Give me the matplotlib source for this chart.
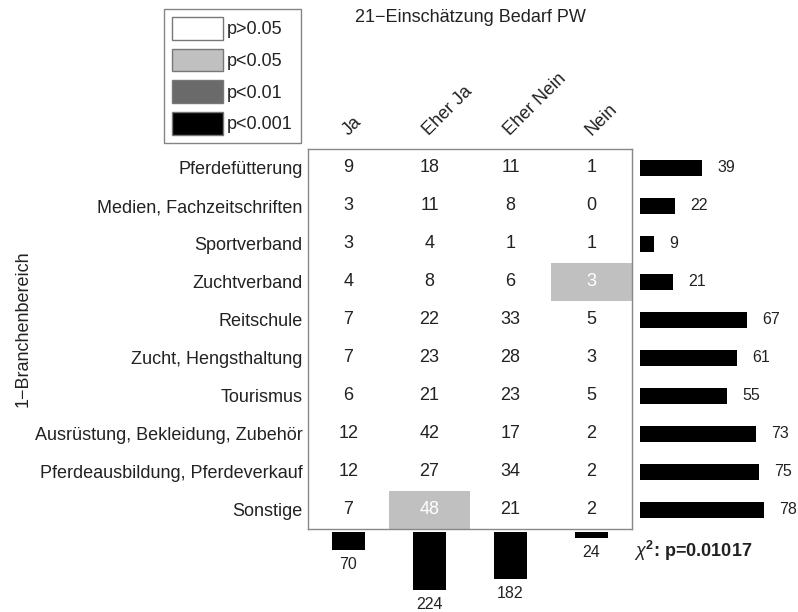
import numpy as np
import matplotlib
matplotlib.use("Agg")
import matplotlib.pyplot as plt
from matplotlib.colors import ListedColormap
from matplotlib.patches import Patch

plt.rcParams['font.family'] = ['Liberation Sans', 'DejaVu Sans']
plt.rcParams['mathtext.fontset'] = 'custom'
plt.rcParams['mathtext.rm'] = 'Liberation Sans'
plt.rcParams['mathtext.it'] = 'Liberation Sans:italic'
plt.rcParams['mathtext.bf'] = 'Liberation Sans:bold'

# data
title = "21\u2212Einschätzung Bedarf PW"
ylabel = "1\u2212Branchenbereich"
columns = ["Ja", "Eher Ja", "Eher Nein", "Nein"]
rows = ["Pferdefütterung", "Medien, Fachzeitschriften", "Sportverband",
        "Zuchtverband", "Reitschule", "Zucht, Hengsthaltung", "Tourismus",
        "Ausrüstung, Bekleidung, Zubehör", "Pferdeausbildung, Pferdeverkauf",
        "Sonstige"]
counts = np.array([
    [9, 18, 11, 1],
    [3, 11, 8, 0],
    [3, 4, 1, 1],
    [4, 8, 6, 3],
    [7, 22, 33, 5],
    [7, 23, 28, 3],
    [6, 21, 23, 5],
    [12, 42, 17, 2],
    [12, 27, 34, 2],
    [7, 48, 21, 2],
])
# significance level per cell: 0 p>0.05, 1 p<0.05, 2 p<0.01, 3 p<0.001
signif = np.zeros_like(counts)
signif[3, 3] = 1
signif[9, 1] = 1
row_totals = counts.sum(axis=1)
col_totals = counts.sum(axis=0)
chi_text = r"$\chi^{\mathbf{2}}$: p=0.01017"
levels = ["p>0.05", "p<0.05", "p<0.01", "p<0.001"]
level_colors = ["white", "#c0c0c0", "#6a6a6a", "black"]

W, H = 798, 612
fig = plt.figure(figsize=(W / 100, H / 100), dpi=100)
fs = 13
txtcol = "#222222"

def px_axes(x0, y0, x1, y1):
    return fig.add_axes([x0 / W, 1 - y1 / H, (x1 - x0) / W, (y1 - y0) / H])

# main table
ax = px_axes(308, 149, 632, 529)
nr, nc = counts.shape
ax.pcolormesh(np.arange(nc + 1), np.arange(nr + 1), signif,
              cmap=ListedColormap(level_colors), vmin=-0.5, vmax=3.5)
ax.set_xlim(0, nc)
ax.set_ylim(nr, 0)
for i in range(nr):
    for j in range(nc):
        c = "white" if signif[i, j] > 0 else txtcol
        ax.text(j + 0.5, i + 0.5, str(counts[i, j]), ha="center", va="center",
                fontsize=fs, color=c)
ax.set_xticks([])
ax.set_yticks(np.arange(nr) + 0.5)
ax.set_yticklabels(rows, fontsize=fs, color=txtcol)
ax.tick_params(axis="y", length=0, pad=4)
for s in ax.spines.values():
    s.set_color("#888888")
    s.set_linewidth(1)
for j, name in enumerate(columns):
    ax.annotate(name, xy=(j + 0.5, 0), xycoords="data", xytext=(2, 7),
                textcoords="offset points", rotation=45, ha="left",
                va="bottom", rotation_mode="anchor", fontsize=fs, color=txtcol)

# row totals
axr = px_axes(640, 149, 798, 529)
axr.barh(np.arange(nr) + 0.5, row_totals, height=0.4, color="black")
axr.set_ylim(nr, 0)
axr.set_xlim(0, 158 / 1.59)
axr.axis("off")
for i, v in enumerate(row_totals):
    axr.annotate(str(v), xy=(v, i + 0.5), xytext=(11, 0),
                 textcoords="offset points", ha="left", va="center",
                 fontsize=fs - 1.5, color=txtcol)

# column totals
axb = px_axes(308, 532, 632, 612)
axb.bar(np.arange(nc) + 0.5, col_totals, width=0.4, color="black")
axb.set_xlim(0, nc)
axb.set_ylim(80 / 0.26, 0)
axb.axis("off")
for j, v in enumerate(col_totals):
    axb.annotate(str(v), xy=(j + 0.5, v), xytext=(0, -5),
                 textcoords="offset points", ha="center", va="top",
                 fontsize=fs - 1.5, color=txtcol)

fig.text(634 / W, 1 - 551 / H, chi_text, fontsize=fs, fontweight="bold",
         ha="left", va="center", color=txtcol)

fig.text(470 / W, 1 - 17 / H, title, fontsize=fs, ha="center", va="center",
         color=txtcol)
fig.text(23 / W, 1 - 329 / H, ylabel, fontsize=fs, rotation=90,
         ha="center", va="center", color=txtcol)

handles = [Patch(facecolor=c, edgecolor="#777777") for c in level_colors]
leg = fig.legend(handles, levels, loc="upper left",
                 bbox_to_anchor=(164 / W, 1 - 9 / H), fontsize=fs,
                 handlelength=2.8, handleheight=1.55, labelspacing=0.5,
                 handletextpad=0.25, borderpad=0.45, borderaxespad=0,
                 fancybox=False, frameon=True)
leg.get_frame().set_edgecolor("#666666")
leg.get_frame().set_linewidth(1)
for t in leg.get_texts():
    t.set_color(txtcol)

fig.savefig("out.png", dpi=100)
